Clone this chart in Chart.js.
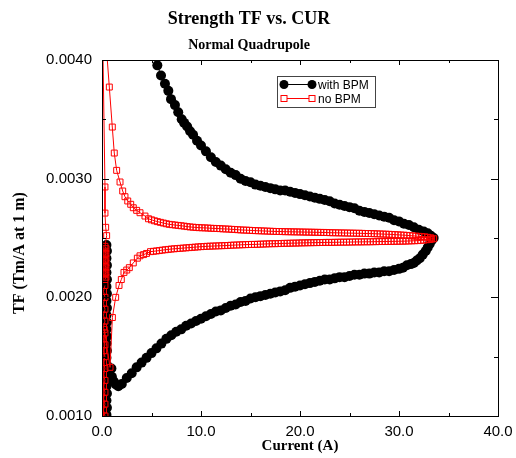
<!DOCTYPE html>
<html>
<head>
<meta charset="utf-8">
<script src="https://cdn.jsdelivr.net/npm/chart.js@4/dist/chart.umd.min.js"></script>
<style>
  body { margin: 0; background: #fff; }
</style>
</head>
<body>
<canvas id="chart" width="516" height="458"></canvas>
<script>
const chartTitle = 'Strength TF vs. CUR';
const chartSubtitle = 'Normal Quadrupole';
const xTitle = 'Current (A)';
const yTitle = 'TF (Tm/A at 1 m)';
const seriesNames = ['with BPM', 'no BPM'];

// with BPM: scatter near zero, then ramp up, then ramp down
const bpmCurrent = [
  0.45,0.5,0.45,0.5,0.45,0.5,0.45,0.5,0.45,0.5,0.45,0.5,0.45,0.5,0.45,0.5,0.45,0.5,0.45,0.5,0.45,0.5,0.45,0.5,0.45,0.5,
  0.95,1.0,1.2,1.4,1.65,2.0,2.5,3.0,3.5,4.0,4.5,5.0,5.5,6.0,6.5,7.0,7.5,8.0,8.5,9.0,9.5,10.0,
  10.5,11.0,11.5,12.0,12.5,13.0,13.5,14.0,14.5,15.0,15.5,16.0,16.5,17.0,17.5,18.0,18.5,19.0,19.5,20.0,
  20.5,21.0,21.5,22.0,22.5,23.0,23.5,24.0,24.5,25.0,25.5,26.0,26.5,27.0,27.5,28.0,28.5,29.0,29.5,30.0,
  30.4,30.8,31.2,31.5,31.8,32.1,32.4,32.7,32.9,33.1,33.3,33.5,
  33.2,32.9,32.5,32.0,31.5,31.0,30.5,30.0,29.5,29.0,28.5,28.0,27.5,27.0,26.5,26.0,25.5,25.0,24.5,24.0,
  23.5,23.0,22.5,22.0,21.5,21.0,20.5,20.0,19.5,19.0,18.5,18.0,17.5,17.0,16.5,16.0,15.5,15.0,14.5,14.0,
  13.5,13.0,12.5,12.0,11.5,11.0,10.5,10.0,9.6,9.2,8.9,8.6,8.3,8.05,7.7,7.37,6.97,6.7,6.36,5.96,5.59,5.25
];
const bpmTF = [
  0.00244,0.00239,0.00233,0.00227,0.00221,0.00215,0.00209,0.00203,0.00197,0.00191,0.00185,0.00179,0.00173,
  0.00167,0.00161,0.00155,0.00149,0.00143,0.00137,0.00131,0.00125,0.00119,0.00113,0.00107,0.00101,0.00095,
  0.00140,0.00133,0.00129,0.001265,0.00125,0.00127,0.00132,0.00136,0.00141,0.00145,0.00149,0.00153,0.00157,
  0.00161,0.00165,0.00168,0.00171,0.00173,0.00176,0.00178,0.00180,0.00182,
  0.00184,0.00186,0.00188,0.00189,0.00191,0.00193,0.00194,0.00196,0.00197,0.00199,0.00200,0.00201,0.00202,
  0.00203,0.00204,0.00205,0.00206,0.00208,0.00209,0.00210,
  0.00211,0.00212,0.00213,0.00214,0.00215,0.00215,0.00216,0.00217,0.00217,0.00218,0.00219,0.00219,0.00220,
  0.00220,0.00221,0.00221,0.00222,0.00222,0.00223,0.00224,
  0.00225,0.00227,0.00228,0.00229,0.00231,0.00233,0.00236,0.00239,0.00242,0.00245,0.00248,0.00250,
  0.00252,0.00254,0.002555,0.00257,0.00259,0.00261,0.00262,0.00264,0.00265,0.00267,0.00268,0.00269,0.00270,
  0.00271,0.00272,0.00273,0.00275,0.00276,0.00277,0.00278,
  0.00279,0.00281,0.00282,0.00283,0.00284,0.00285,0.00286,0.00287,0.00288,0.00289,0.00290,0.00290,0.00291,
  0.00292,0.00293,0.00294,0.00295,0.00297,0.00298,0.00300,
  0.00303,0.00305,0.00308,0.00311,0.00314,0.00318,0.00323,0.00328,0.00332,0.00337,0.00340,0.00344,0.00347,
  0.00350,0.00356,0.00362,0.00367,0.00374,0.00380,0.00387,0.003955,0.00405
];

// no BPM: scatter near zero, ramp up, ramp down, scatter near zero again
const noBpmCurrent = [
  0.3,0.15,0.3,0.15,0.3,0.15,0.3,0.15,0.3,0.15,0.3,0.15,0.3,0.15,0.3,0.15,0.3,0.15,0.3,0.15,0.3,0.15,0.3,0.15,0.23,
  0.81,1.05,1.38,1.72,1.95,2.22,2.5,2.76,3.16,3.57,3.84,4.2,4.5,
  4.9,5.2,5.5,5.8,6.1,6.4,6.7,7.0,7.3,7.6,7.9,8.2,8.5,8.8,9.1,9.4,9.7,10.0,10.3,10.6,10.9,11.2,11.5,11.8,
  12.1,12.4,12.7,13.0,13.3,13.6,13.9,14.2,14.5,14.8,15.1,15.4,15.7,16.0,16.3,16.6,16.9,17.2,17.5,17.8,
  18.1,18.4,18.7,19.0,19.3,19.6,19.9,20.2,20.5,20.8,21.1,21.4,21.7,22.0,22.3,22.6,22.9,23.2,23.5,23.8,
  24.1,24.4,24.7,25.0,25.3,25.6,25.9,26.2,26.5,26.8,27.1,27.4,27.7,28.0,28.3,28.6,28.9,29.2,29.5,29.8,
  30.1,30.4,30.7,31.0,31.3,31.6,31.9,32.2,32.5,32.8,33.1,33.3,33.5,
  33.2,32.9,32.6,32.3,32.0,31.7,31.4,31.1,30.8,30.5,30.2,29.9,29.6,29.3,29.0,28.7,28.4,28.1,27.8,27.5,
  27.2,26.9,26.6,26.3,26.0,25.7,25.4,25.1,24.8,24.5,24.2,23.9,23.6,23.3,23.0,22.7,22.4,22.1,21.8,21.5,
  21.2,20.9,20.6,20.3,20.0,19.7,19.4,19.1,18.8,18.5,18.2,17.9,17.6,17.3,17.0,16.7,16.4,16.1,15.8,15.5,
  15.2,14.9,14.6,14.3,14.0,13.7,13.4,13.1,12.8,12.5,12.2,11.9,11.6,11.3,11.0,10.7,10.4,10.1,9.8,9.5,
  9.2,8.9,8.6,8.3,8.0,7.7,7.4,7.1,6.8,6.5,6.2,5.9,5.6,5.3,5.0,4.7,
  4.34,3.84,3.5,3.16,2.9,2.6,2.32,2.09,1.82,1.48,1.24,1.04,0.74,0.0,
  0.3,0.3,0.37,0.47,0.3,0.4,0.3,0.4,0.3,0.4,0.3,0.4,0.3,0.4,0.3,0.4,0.3,0.4,0.3
];
const noBpmTF = [
  0.00210,0.00205,0.00200,0.00195,0.00190,0.00185,0.00180,0.00175,0.00170,0.00165,0.00160,0.00155,0.00150,
  0.00145,0.00140,0.00135,0.00130,0.00125,0.00120,0.00115,0.00110,0.00105,0.00100,0.00095,0.00173,
  0.00141,0.00183,0.00200,0.00210,0.00215,0.00221,0.00223,0.00225,0.00229,0.00233,0.00235,0.00236,0.00237,
  0.002385,0.002388,0.002391,0.002394,0.002398,0.002401,0.002404,0.002407,0.002409,0.002411,0.002413,0.002415,
  0.002417,0.002419,0.002421,0.002423,0.002425,0.002427,0.002428,0.00243,0.002431,0.002432,0.002433,0.002434,
  0.002435,0.002436,0.002437,0.002439,0.00244,0.002441,0.002442,0.002443,0.002444,0.002445,0.002446,0.002446,
  0.002447,0.002448,0.002449,0.00245,0.002451,0.002452,0.002452,0.002453,0.002454,0.002455,0.002455,0.002456,
  0.002457,0.002457,0.002458,0.002459,0.002459,0.00246,0.00246,0.002461,0.002461,0.002462,0.002462,0.002463,
  0.002463,0.002463,0.002464,0.002464,0.002465,0.002465,0.002465,0.002466,0.002466,0.002467,0.002467,0.002467,
  0.002468,0.002468,0.002468,0.002469,0.002469,0.00247,0.00247,0.00247,0.002471,0.002471,0.002472,0.002472,
  0.002473,0.002473,0.002474,0.002475,0.002476,0.002477,0.002478,0.00248,0.002482,0.002485,0.002488,0.002491,
  0.002494,
  0.002502,0.002506,0.00251,0.002512,0.002514,0.002516,0.002518,0.00252,0.002522,0.002524,0.002525,0.002527,
  0.002528,0.00253,0.002531,0.002532,0.002533,0.002534,0.002535,0.002536,0.002537,0.002538,0.002538,0.002539,
  0.00254,0.00254,0.002541,0.002541,0.002542,0.002542,0.002543,0.002543,0.002544,0.002544,0.002545,0.002546,
  0.002547,0.002547,0.002548,0.002548,0.002549,0.002549,0.00255,0.00255,0.002551,0.002551,0.002552,0.002552,
  0.002553,0.002553,0.002554,0.002555,0.002555,0.002556,0.002557,0.002558,0.002559,0.00256,0.002561,0.002562,
  0.002563,0.002565,0.002566,0.002567,0.002568,0.00257,0.002572,0.002573,0.002575,0.002576,0.002577,0.002579,
  0.00258,0.002581,0.002582,0.002584,0.002585,0.002586,0.002587,0.002589,0.002591,0.002593,0.002596,0.0026,
  0.002603,0.002606,0.002609,0.002612,0.002615,0.00262,0.002626,0.002632,0.002638,0.002645,0.002653,0.002662,
  0.002685,0.002713,0.002733,0.002755,0.002784,0.002812,0.002848,0.002896,0.002972,0.00307,0.003216,0.003435,
  0.003772,0.0046,
  0.00293,0.00271,0.00259,0.00252,0.00243,0.00241,0.00239,0.00237,0.00235,0.00233,0.00231,0.00229,
  0.00227,0.00225,0.00223,0.00221,0.00219,0.00217,0.00215
];

const toPoints = (xs, ys) => xs.map((x, i) => ({x: x, y: ys[i]}));
const isMajorY = v => Math.abs(v * 1000 - Math.round(v * 1000)) < 1e-6;

const frameTicks = {
  id: 'frameTicks',
  afterDatasetsDraw(chart) {
    const {ctx, chartArea: a, scales: {x, y}} = chart;
    ctx.save();
    ctx.strokeStyle = '#000';
    ctx.lineWidth = 1;
    ctx.beginPath();
    x.ticks.forEach(t => {
      const px = Math.round(x.getPixelForValue(t.value)) + 0.5;
      const len = t.value % 10 === 0 ? 5 : 3;
      ctx.moveTo(px, a.bottom); ctx.lineTo(px, a.bottom - len);
      ctx.moveTo(px, a.top); ctx.lineTo(px, a.top + len);
    });
    y.ticks.forEach(t => {
      const py = Math.round(y.getPixelForValue(t.value)) + 0.5;
      const len = isMajorY(t.value) ? 7 : 4;
      ctx.moveTo(a.left, py); ctx.lineTo(a.left + len, py);
      ctx.moveTo(a.right, py); ctx.lineTo(a.right - len, py);
    });
    ctx.stroke();
    ctx.strokeRect(Math.round(a.left) + 0.5, Math.round(a.top) + 0.5,
      Math.round(a.right - a.left), Math.round(a.bottom - a.top));

    // y axis title, set a little below the middle as in the original
    ctx.fillStyle = '#000';
    ctx.font = 'bold 16px "Liberation Serif"';
    ctx.textAlign = 'center';
    ctx.textBaseline = 'middle';
    ctx.translate(20, 253);
    ctx.rotate(-Math.PI / 2);
    ctx.fillText(yTitle, 0, 0);
    ctx.restore();
  }
};

const boxLegend = {
  id: 'boxLegend',
  afterDraw(chart) {
    const {ctx} = chart;
    const bx = 277, by = 76, bw = 98, bh = 31;
    ctx.save();
    ctx.fillStyle = '#fff';
    ctx.fillRect(bx, by, bw, bh);
    ctx.strokeStyle = '#444';
    ctx.lineWidth = 1;
    ctx.strokeRect(bx + 0.5, by + 0.5, bw, bh);
    chart.data.datasets.forEach((ds, i) => {
      const yy = 84.5 + i * 14;
      ctx.strokeStyle = ds.borderColor;
      ctx.beginPath();
      ctx.moveTo(284, yy); ctx.lineTo(312, yy);
      ctx.stroke();
      [284, 312].forEach(xx => {
        ctx.fillStyle = ds.pointBackgroundColor;
        ctx.strokeStyle = ds.pointBorderColor;
        if (ds.pointStyle === 'circle') {
          ctx.beginPath();
          ctx.arc(xx, yy, 4.5, 0, Math.PI * 2);
          ctx.fill();
        } else {
          ctx.fillStyle = '#fff';
          ctx.fillRect(xx - 3, yy - 3, 6, 6);
          ctx.strokeRect(xx - 3, yy - 3, 6, 6);
        }
      });
      ctx.fillStyle = '#000';
      ctx.font = '12px "Liberation Sans"';
      ctx.textAlign = 'left';
      ctx.textBaseline = 'middle';
      ctx.fillText(ds.label, 318, yy + 1);
    });
    ctx.restore();
  }
};

new Chart(document.getElementById('chart').getContext('2d'), {
  type: 'scatter',
  data: {
    datasets: [
      {
        label: seriesNames[0],
        data: toPoints(bpmCurrent, bpmTF),
        showLine: true,
        borderColor: '#000',
        borderWidth: 1,
        pointStyle: 'circle',
        pointRadius: 5,
        pointBackgroundColor: '#000',
        pointBorderColor: '#000',
        pointBorderWidth: 0,
        order: 1
      },
      {
        label: seriesNames[1],
        data: toPoints(noBpmCurrent, noBpmTF),
        showLine: true,
        borderColor: '#ff0000',
        borderWidth: 1,
        pointStyle: 'rect',
        pointRadius: 4.2,
        pointBackgroundColor: 'rgba(255,255,255,0)',
        pointBorderColor: '#ff0000',
        pointBorderWidth: 1,
        order: 0
      }
    ]
  },
  options: {
    responsive: false,
    animation: false,
    devicePixelRatio: 1,
    layout: {padding: {top: 0, right: 18, bottom: 0, left: 0}},
    plugins: {
      legend: {display: false},
      tooltip: {enabled: false},
      title: {
        display: true,
        text: chartTitle,
        color: '#000',
        font: {family: '"Liberation Serif"', size: 18, weight: 'bold'},
        padding: {top: 8.5, bottom: 0}
      },
      subtitle: {
        display: true,
        text: chartSubtitle,
        color: '#000',
        font: {family: '"Liberation Serif"', size: 14, weight: 'bold'},
        padding: {top: 6.5, bottom: 6.6}
      }
    },
    scales: {
      x: {
        type: 'linear',
        min: 0,
        max: 40,
        grid: {display: false, drawTicks: false},
        border: {display: true, color: '#000'},
        ticks: {
          stepSize: 5,
          autoSkip: false,
          maxRotation: 0,
          padding: 7,
          color: '#000',
          font: {family: '"Liberation Sans"', size: 15},
          callback: v => (v % 10 === 0 ? v.toFixed(1) : '')
        },
        title: {
          display: true,
          text: xTitle,
          color: '#000',
          font: {family: '"Liberation Serif"', size: 15, weight: 'bold'},
          padding: {top: 0, bottom: 3}
        },
        afterFit: s => { s.height = 42; s.paddingRight = 18; }
      },
      y: {
        type: 'linear',
        min: 0.001,
        max: 0.004,
        grid: {display: false, drawTicks: false},
        border: {display: true, color: '#000'},
        ticks: {
          stepSize: 0.0005,
          autoSkip: false,
          padding: 10,
          color: '#000',
          font: {family: '"Liberation Sans"', size: 15},
          callback: v => (isMajorY(v) ? v.toFixed(4) : '')
        },
        afterFit: s => { s.width = 102; }
      }
    }
  },
  plugins: [frameTicks, boxLegend]
});
</script>
</body>
</html>
